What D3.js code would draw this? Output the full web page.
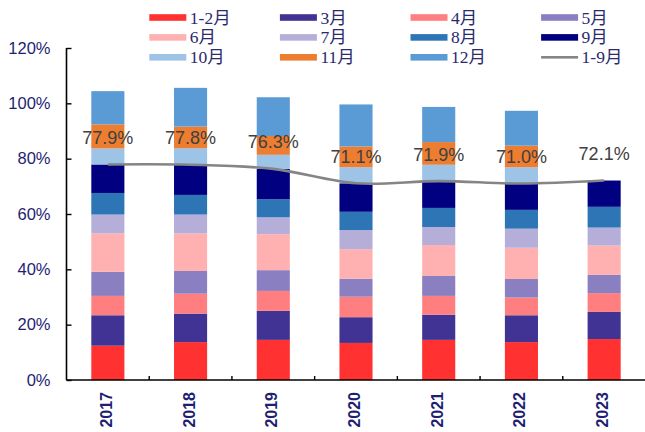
<!DOCTYPE html>
<html>
<head>
<meta charset="utf-8">
<script src="https://cdn.jsdelivr.net/npm/d3@7"></script>
<style>
  html, body { margin: 0; padding: 0; background: #fff; }
  svg { display: block; }
</style>
</head>
<body>
<svg id="chart" width="645" height="432"></svg>
<script>
// Yearly sales share by month (% of annual total)
const years = ['2017', '2018', '2019', '2020', '2021', '2022', '2023'];
const monthNames = ['1-2月', '3月', '4月', '5月', '6月', '7月', '8月', '9月', '10月', '11月', '12月'];

const janFeb = [12.4, 13.7, 14.5, 13.4, 14.5, 13.7, 14.8];
const mar    = [11.0, 10.3, 10.5,  9.3,  9.1,  9.7,  9.8];
const apr    = [ 7.0,  7.2,  7.2,  7.4,  6.8,  6.4,  6.8];
const may    = [ 8.7,  8.2,  7.5,  6.5,  7.2,  6.7,  6.6];
const jun    = [13.9, 13.6, 13.0, 10.7, 11.2, 11.3, 10.6];
const jul    = [ 6.8,  6.8,  6.1,  6.9,  6.5,  6.9,  6.5];
const aug    = [ 7.8,  7.1,  6.5,  6.6,  6.9,  6.8,  7.5];
const sep    = [10.3, 10.9, 11.0, 10.3,  9.7,  9.5,  9.5];
const oct    = [ 5.8,  6.0,  5.1,  5.8,  5.9,  5.9, null];
const nov    = [ 8.7,  7.8,  6.8,  7.5,  8.2,  7.8, null];
const dec    = [12.0, 14.0, 14.0, 15.2, 12.7, 12.6, null];

// Cumulative Jan–Sep share
const janSep = [77.9, 77.8, 76.3, 71.1, 71.9, 71.0, 72.1];
const lineName = '1-9月';

const yTicks = [0, 20, 40, 60, 80, 100, 120];

const monthSeries = [janFeb, mar, apr, may, jun, jul, aug, sep, oct, nov, dec];
const colors = ['#ff3131', '#403393', '#ff7e80', '#8a7fc0', '#ffb1b2', '#b5aed9',
                '#2e75b6', '#000080', '#9dc3e6', '#ed7d31', '#5b9bd5'];
const lineColor = '#858585';
const navy = '#1e1e72';

const rows = years.map((y, i) => {
  const r = { year: y };
  monthNames.forEach((m, k) => { r[m] = monthSeries[k][i] == null ? 0 : monthSeries[k][i]; });
  return r;
});

const svg = d3.select('#chart');
const margin = { left: 66.5, right: 645.5, top: 48, bottom: 380 };

const x = d3.scaleBand().domain(years).range([margin.left, margin.right]).padding(0);
const y = d3.scaleLinear().domain([0, 120]).range([margin.bottom, margin.top]);
const barW = x.bandwidth() * 0.4;

const stacked = d3.stack().keys(monthNames)(rows);
const color = d3.scaleOrdinal().domain(monthNames).range(colors);

// stacked bars
svg.append('g').selectAll('g')
  .data(stacked)
  .join('g')
  .attr('fill', d => color(d.key))
  .selectAll('rect')
  .data(d => d.filter(p => p[1] - p[0] > 0))
  .join('rect')
  .attr('x', p => x(p.data.year) + (x.bandwidth() - barW) / 2)
  .attr('width', barW)
  .attr('y', p => y(p[1]))
  .attr('height', p => y(p[0]) - y(p[1]));

// y axis
const yAxis = d3.axisLeft(y).tickValues(yTicks).tickSize(-5).tickPadding(16)
  .tickFormat(d => d + '%');
const gy = svg.append('g').attr('transform', `translate(${margin.left},0)`).call(yAxis);
gy.select('.domain').attr('d', `M0,${y(120)}V${y(0)}`).attr('stroke', '#000').attr('stroke-width', 1.6);
gy.selectAll('.tick line').attr('stroke', '#000').attr('stroke-width', 1.4);
gy.selectAll('.tick text')
  .attr('fill', navy)
  .style('font-family', 'Liberation Sans, Arial, sans-serif')
  .style('font-size', '16.5px');

// x axis with ticks on category boundaries
const gx = svg.append('g').attr('transform', `translate(0,${margin.bottom})`);
gx.append('line')
  .attr('x1', margin.left).attr('x2', margin.right)
  .attr('stroke', '#000').attr('stroke-width', 1.6);
gx.selectAll('line.tk')
  .data(years.slice(1))
  .join('line')
  .attr('class', 'tk')
  .attr('x1', d => x(d)).attr('x2', d => x(d))
  .attr('y1', 0).attr('y2', -4)
  .attr('stroke', '#000').attr('stroke-width', 1.4);
gx.selectAll('text')
  .data(years)
  .join('text')
  .attr('transform', d => `translate(${x(d) + x.bandwidth() / 2 + 4},12) rotate(-90)`)
  .attr('text-anchor', 'end')
  .attr('fill', navy)
  .style('font-family', 'Liberation Sans, Arial, sans-serif')
  .style('font-weight', 'bold')
  .style('font-size', '16px')
  .text(d => d);

// smoothed Jan–Sep line
const cx = d => x(d) + x.bandwidth() / 2;
const line = d3.line()
  .x((d, i) => cx(years[i]))
  .y(d => y(d))
  .curve(d3.curveCatmullRom.alpha(0));
svg.append('path')
  .datum(janSep)
  .attr('d', line)
  .attr('fill', 'none')
  .attr('stroke', lineColor)
  .attr('stroke-width', 2.6);

// value labels
svg.append('g').selectAll('text')
  .data(janSep)
  .join('text')
  .attr('x', (d, i) => cx(years[i]))
  .attr('y', d => y(d) - 20.5)
  .attr('text-anchor', 'middle')
  .attr('fill', '#404040')
  .style('font-family', 'Liberation Sans, Arial, sans-serif')
  .style('font-size', '18px')
  .text(d => d.toFixed(1) + '%');

// legend: 4 columns x 3 rows
const legendItems = monthNames.map((m, k) => ({ name: m, color: colors[k], type: 'bar' }))
  .concat([{ name: lineName, color: lineColor, type: 'line' }]);
const lg = svg.append('g');
const item = lg.selectAll('g')
  .data(legendItems)
  .join('g')
  .attr('transform', (d, i) => `translate(${149.3 + (i % 4) * 130.6},${17.5 + Math.floor(i / 4) * 19.9})`);
item.append('rect')
  .attr('x', 0).attr('width', 37)
  .attr('y', d => d.type === 'line' ? -1.3 : -3.3)
  .attr('height', d => d.type === 'line' ? 2.6 : 6.6)
  .attr('fill', d => d.color);
item.append('text')
  .attr('x', 40.5)
  .attr('y', 6)
  .attr('fill', '#2a2a6c')
  .style('font-family', 'Liberation Serif, "Noto Sans CJK SC", serif')
  .style('font-size', '17.5px')
  .text(d => d.name);
</script>
</body>
</html>
